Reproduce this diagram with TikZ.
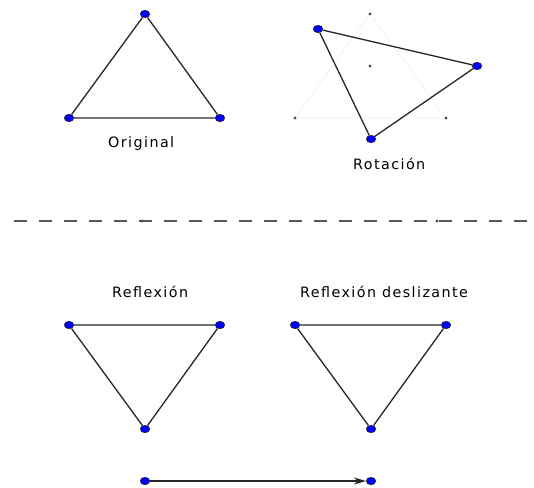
\documentclass[tikz,border=0pt]{standalone}
\usepackage{fontspec}
\setmainfont{DejaVu Sans}[LetterSpace=10]
\usetikzlibrary{arrows.meta,shapes.geometric}
\begin{document}
\begin{tikzpicture}[x=1pt,y=-1pt,
  pt/.style={ellipse,draw=black!85,fill=blue,inner sep=0pt,minimum width=9.5pt,minimum height=7.5pt,line width=0.6pt},
  sp/.style={circle,fill=black!70,inner sep=0pt,minimum size=3.2pt},
  edge/.style={draw=black!85,line width=1.3pt},
  faint/.style={draw=black!7,line width=0.6pt},
  lbl/.style={anchor=base west,inner sep=0pt,text=black,font=\fontsize{14.3}{16}\selectfont}]
\path[use as bounding box] (0,0) rectangle (534,487);
% Original
\node[pt] (o1) at (145,14) {};
\node[pt] (o2) at (69,118) {};
\node[pt] (o3) at (220,118) {};
\draw[edge] (o1) -- (o2) -- (o3) -- (o1);
\node[lbl] (lo) at (108,147) {Original};
% Rotation
\node[sp] (f1) at (370,14) {};
\node[sp] (f2) at (295,118) {};
\node[sp] (f3) at (446,118) {};
\node[sp] (fc) at (370,66) {};
\draw[faint] (f1) -- (f2) -- (f3) -- (f1);
\node[pt] (r1) at (318,29) {};
\node[pt] (r2) at (477,66) {};
\node[pt] (r3) at (371,139) {};
\draw[edge] (r1) -- (r2) -- (r3) -- (r1);
\node[lbl] (lr) at (353,169) {Rotación};
% mirror line
\coordinate (ml) at (5,221);
\coordinate (mr) at (534,221);
\draw[draw=black!65,line width=1.3pt,dash pattern=on 13pt off 12pt,dash phase=16pt] (ml) -- (mr);
\node[sp] (m1) at (142,221) {};
\node[sp] (m2) at (437,221) {};
% Reflection
\node[lbl] (lf) at (112,297) {Reflexión};
\node[pt] (a1) at (69,325) {};
\node[pt] (a2) at (220,325) {};
\node[pt] (a3) at (145,429) {};
\draw[edge] (a1) -- (a2) -- (a3) -- (a1);
% Glide reflection
\node[lbl] (lg) at (300,297) {Reflexión deslizante};
\node[pt] (b1) at (295,325) {};
\node[pt] (b2) at (446,325) {};
\node[pt] (b3) at (371,429) {};
\draw[edge] (b1) -- (b2) -- (b3) -- (b1);
% vector
\node[pt] (v1) at (145,481) {};
\node[pt] (v2) at (371,481) {};
\draw[edge,-{Stealth[length=12pt,width=7pt]}] (v1) -- (v2);
\end{tikzpicture}
\end{document}
